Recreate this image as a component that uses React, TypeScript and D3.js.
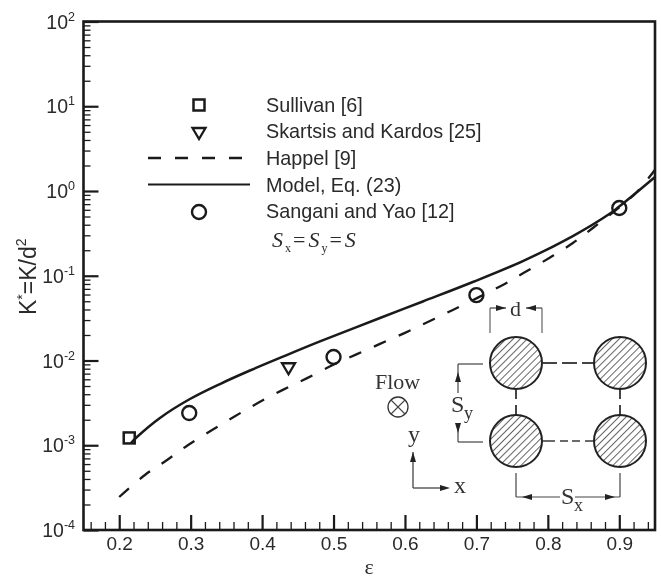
import React, {useEffect, useRef} from 'react';
import * as d3 from 'd3';

// values
const modelX = [0.2164, 0.2248, 0.257, 0.299, 0.341, 0.383, 0.429, 0.481, 0.565, 0.625, 0.695, 0.765, 0.835, 0.886, 0.899, 0.925, 0.95];
const modelY = [0.00106, 0.00125, 0.0021, 0.00351, 0.00528, 0.00762, 0.0111, 0.0168, 0.0317, 0.0497, 0.0844, 0.149, 0.294, 0.535, 0.647, 0.973, 1.46];
const happelX = [0.2, 0.236, 0.267, 0.296, 0.33, 0.362, 0.394, 0.429, 0.463, 0.499, 0.532, 0.565, 0.6, 0.632, 0.667, 0.737, 0.767, 0.802, 0.835, 0.863, 0.9, 0.925, 0.95];
const happelY = [0.000245, 0.000446, 0.00067, 0.001, 0.00151, 0.0022, 0.00315, 0.0045, 0.0062, 0.00885, 0.0118, 0.0157, 0.0212, 0.0285, 0.0395, 0.078, 0.109, 0.162, 0.243, 0.366, 0.64, 0.98, 1.78];
const sullivan = [[0.214, 0.00122]];
const skartsis = [[0.437, 0.0081]];
const sangani = [[0.298, 0.0024], [0.5, 0.011], [0.7, 0.059], [0.9, 0.63]];

const xMajor = [0.2, 0.3, 0.4, 0.5, 0.6, 0.7, 0.8, 0.9];
const xMinor = [0.16, 0.18, 0.22, 0.24, 0.26, 0.28, 0.32, 0.34, 0.36, 0.38, 0.42, 0.44, 0.46, 0.48, 0.52, 0.54, 0.56, 0.58, 0.62, 0.64, 0.66, 0.68, 0.72, 0.74, 0.76, 0.78, 0.82, 0.84, 0.86, 0.88, 0.92, 0.94];
const yExponents = [-4, -3, -2, -1, 0, 1, 2];
const yMinorSteps = [2, 3, 4, 5, 6, 7, 8, 9];

const legendLabels = ['Sullivan [6]', 'Skartsis and Kardos [25]', 'Happel [9]', 'Model, Eq. (23)', 'Sangani and Yao [12]'];

const sans = '"Liberation Sans", Arial, sans-serif';
const serif = '"Liberation Serif", "Times New Roman", serif';
const ink = '#1a1a1a';

const margin = {top: 21.5, right: 6, bottom: 49, left: 83.5};
const width = 661;
const height = 579;

export default function App() {
    const ref = useRef<SVGSVGElement>(null);

    useEffect(() => {
        const svg = d3.select(ref.current);
        svg.selectAll('*').remove();

        const x = d3.scaleLinear().domain([0.15, 0.95]).range([margin.left, width - margin.right]);
        const y = d3.scaleLog().domain([1e-4, 1e2]).range([height - margin.bottom, margin.top]);
        const bottom = height - margin.bottom;

        const defs = svg.append('defs');
        const hatch = defs.append('pattern')
            .attr('id', 'hatch')
            .attr('patternUnits', 'userSpaceOnUse')
            .attr('width', 5)
            .attr('height', 5)
            .attr('patternTransform', 'rotate(-45)');
        hatch.append('line')
            .attr('x1', 0).attr('x2', 5)
            .attr('y1', 2.5).attr('y2', 2.5)
            .attr('stroke', '#555')
            .attr('stroke-width', 0.9);

        // x axis
        const xMinorAxis = svg.append('g').attr('transform', `translate(0,${bottom})`)
            .call(d3.axisBottom(x).tickValues(xMinor).tickSize(-8).tickFormat(() => ''));
        const xMajorAxis = svg.append('g').attr('transform', `translate(0,${bottom})`)
            .call(d3.axisBottom(x).tickValues(xMajor).tickSize(-15).tickPadding(6.5).tickFormat(d3.format('.1f') as any));
        xMinorAxis.select('.domain').remove();
        xMajorAxis.select('.domain').remove();
        xMinorAxis.selectAll('line').attr('stroke', ink).attr('stroke-width', 1.3);
        xMajorAxis.selectAll('line').attr('stroke', ink).attr('stroke-width', 2.2);
        xMajorAxis.selectAll('text')
            .attr('font-family', sans)
            .attr('font-size', 19)
            .attr('fill', '#2a2a2a');

        // y axis, log
        const yMinorValues = yExponents.slice(0, -1).flatMap(e => yMinorSteps.map(s => s * Math.pow(10, e)));
        const yMinorAxis = svg.append('g').attr('transform', `translate(${margin.left},0)`)
            .call(d3.axisRight(y).tickValues(yMinorValues).tickSize(7).tickFormat(() => ''));
        const yMajorAxis = svg.append('g').attr('transform', `translate(${margin.left},0)`)
            .call(d3.axisRight(y).tickValues(yExponents.map(e => Math.pow(10, e))).tickSize(15).tickFormat(() => ''));
        yMinorAxis.select('.domain').remove();
        yMajorAxis.select('.domain').remove();
        yMinorAxis.selectAll('line').attr('stroke', ink).attr('stroke-width', 1.3);
        yMajorAxis.selectAll('line').attr('stroke', ink).attr('stroke-width', 2.2);

        const yLabels = svg.append('g')
            .attr('font-family', sans)
            .attr('fill', '#2a2a2a')
            .attr('text-anchor', 'end');
        yExponents.forEach(e => {
            const t = yLabels.append('text')
                .attr('x', 75)
                .attr('y', y(Math.pow(10, e)) + 7)
                .attr('font-size', 19.5);
            t.append('tspan').text('10');
            t.append('tspan').attr('font-size', 12.5).attr('dy', -8).text(String(e));
        });

        // frame
        svg.append('rect')
            .attr('x', margin.left)
            .attr('y', margin.top)
            .attr('width', width - margin.left - margin.right)
            .attr('height', bottom - margin.top)
            .attr('fill', 'none')
            .attr('stroke', ink)
            .attr('stroke-width', 2.6);

        // curves
        const line = d3.line<number>()
            .x(d => x(d))
            .curve(d3.curveCatmullRom);
        svg.append('path')
            .attr('d', line.y((d, i) => y(happelY[i]))(happelX))
            .attr('fill', 'none')
            .attr('stroke', ink)
            .attr('stroke-width', 2.3)
            .attr('stroke-dasharray', '13 14');
        svg.append('path')
            .attr('d', line.y((d, i) => y(modelY[i]))(modelX))
            .attr('fill', 'none')
            .attr('stroke', ink)
            .attr('stroke-width', 2.5);

        // symbols
        const drawSquare = (g: any, cx: number, cy: number) => g.append('rect')
            .attr('x', cx - 5.5).attr('y', cy - 5.5)
            .attr('width', 11).attr('height', 11)
            .attr('fill', 'none').attr('stroke', ink).attr('stroke-width', 2.5);
        const drawTriangle = (g: any, cx: number, cy: number) => g.append('path')
            .attr('d', `M${cx - 6.5},${cy - 5}L${cx + 6.5},${cy - 5}L${cx},${cy + 6}Z`)
            .attr('fill', 'none').attr('stroke', ink).attr('stroke-width', 2.3);
        const drawCircle = (g: any, cx: number, cy: number) => g.append('circle')
            .attr('cx', cx).attr('cy', cy).attr('r', 7)
            .attr('fill', 'none').attr('stroke', ink).attr('stroke-width', 2.4);

        sullivan.forEach(d => drawSquare(svg, x(d[0]), y(d[1])));
        skartsis.forEach(d => drawTriangle(svg, x(d[0]), y(d[1])));
        sangani.forEach(d => drawCircle(svg, x(d[0]), y(d[1])));

        // legend
        const legendY = [105, 133, 158, 184.5, 212];
        const legendBase = [112, 138, 165, 192, 218];
        drawSquare(svg, 199, legendY[0]);
        drawTriangle(svg, 199, legendY[1]);
        svg.append('line')
            .attr('x1', 148).attr('x2', 243).attr('y1', legendY[2]).attr('y2', legendY[2])
            .attr('stroke', ink).attr('stroke-width', 2.6).attr('stroke-dasharray', '13 14');
        svg.append('line')
            .attr('x1', 148).attr('x2', 250).attr('y1', legendY[3]).attr('y2', legendY[3])
            .attr('stroke', ink).attr('stroke-width', 2.2);
        drawCircle(svg, 199, legendY[4]);
        legendLabels.forEach((label, i) => {
            svg.append('text')
                .attr('x', 266)
                .attr('y', legendBase[i])
                .attr('font-family', sans)
                .attr('font-size', 19.8)
                .attr('fill', '#2a2a2a')
                .text(label);
        });

        // S_x = S_y = S note
        const note = svg.append('text')
            .attr('x', 272).attr('y', 247)
            .attr('font-family', serif)
            .attr('font-size', 22)
            .attr('font-style', 'italic')
            .attr('fill', '#2a2a2a');
        note.append('tspan').text('S');
        note.append('tspan').attr('font-size', 12).attr('font-style', 'normal').attr('dy', 5).attr('dx', 2).text('x');
        note.append('tspan').attr('dy', -5).attr('dx', 2).attr('font-style', 'normal').text('=');
        note.append('tspan').attr('dx', 3).text('S');
        note.append('tspan').attr('font-size', 12).attr('font-style', 'normal').attr('dy', 5).attr('dx', 2).text('y');
        note.append('tspan').attr('dy', -5).attr('dx', 2).attr('font-style', 'normal').text('=');
        note.append('tspan').attr('dx', 3).text('S');

        // axis titles
        const yTitle = svg.append('text')
            .attr('transform', 'translate(36,315) rotate(-90)')
            .attr('font-family', sans)
            .attr('font-size', 23)
            .attr('fill', '#2a2a2a');
        yTitle.append('tspan').text('K');
        yTitle.append('tspan').attr('font-size', 14).attr('dy', -9).text('*');
        yTitle.append('tspan').attr('dy', 9).text('=K/d');
        yTitle.append('tspan').attr('font-size', 14).attr('dy', -10).text('2');
        svg.append('text')
            .attr('x', 369).attr('y', 574)
            .attr('text-anchor', 'middle')
            .attr('font-family', serif)
            .attr('font-size', 22)
            .attr('fill', '#2a2a2a')
            .text('ε');

        // inset schematic of the cylinder array
        const inset = svg.append('g');
        const gray = '#444';
        const cols = [516, 620];
        const rows = [363, 441];
        const r = 26;
        const seg = (x1: number, y1: number, x2: number, y2: number, w = 1.5) => inset.append('line')
            .attr('x1', x1).attr('y1', y1).attr('x2', x2).attr('y2', y2)
            .attr('stroke', gray).attr('stroke-width', w);
        const label = (tx: number, ty: number, s: string, size = 21) => inset.append('text')
            .attr('x', tx).attr('y', ty)
            .attr('font-family', serif).attr('font-size', size).attr('fill', '#333')
            .text(s);
        const arrow = (tx: number, ty: number, angle: number) => inset.append('path')
            .attr('d', 'M0,0L-10,-3L-10,3Z')
            .attr('transform', `translate(${tx},${ty}) rotate(${angle})`)
            .attr('fill', '#222');

        // dashed links between the cylinders
        seg(543, 363, 557, 363, 2);
        seg(562, 363, 577, 363, 2);
        seg(582, 363, 594, 363, 2);
        seg(543, 441, 555, 441, 1.6);
        seg(560, 441, 568, 441, 1.6);
        seg(572, 441, 580, 441, 1.6);
        seg(585, 441, 594, 441, 1.6);
        cols.forEach(cx => {
            seg(cx, 389, cx, 399, 2);
            seg(cx, 405, cx, 415, 2);
        });
        cols.forEach(cx => rows.forEach(ry => {
            inset.append('circle')
                .attr('cx', cx).attr('cy', ry).attr('r', r)
                .attr('fill', 'url(#hatch)')
                .attr('stroke', '#222')
                .attr('stroke-width', 2);
        }));

        // d
        seg(490, 308, 490, 333, 1);
        seg(542, 308, 542, 333, 1);
        seg(490, 308, 506, 308, 1.2);
        seg(526, 308, 542, 308, 1.2);
        arrow(506, 308, 0);
        arrow(526, 308, 180);
        label(510, 316, 'd', 22);

        // S_y
        seg(458, 364, 483, 364, 1.2);
        seg(458, 442, 483, 442, 1.2);
        seg(458, 364, 458, 393, 1.2);
        seg(458, 424, 458, 442, 1.2);
        arrow(458, 372, -90);
        arrow(458, 433, 90);
        label(451, 412, 'S', 24);
        label(464, 419, 'y', 18);

        // S_x
        seg(516, 473, 516, 497, 1.2);
        seg(620, 473, 620, 497, 1.2);
        seg(516, 497, 560, 497, 1.2);
        seg(575, 497, 620, 497, 1.2);
        arrow(522, 497, 180);
        arrow(615, 497, 0);
        label(561, 504, 'S', 24);
        label(574, 511, 'x', 18);

        // flow mark and coordinate axes
        label(375, 389, 'Flow', 22);
        inset.append('circle')
            .attr('cx', 398).attr('cy', 407).attr('r', 10)
            .attr('fill', 'none').attr('stroke', '#333').attr('stroke-width', 1.3);
        seg(391, 400, 405, 414, 1.1);
        seg(391, 414, 405, 400, 1.1);
        seg(413, 452, 413, 488, 1.3);
        seg(413, 488, 445, 488, 1.3);
        arrow(413, 452, -90);
        arrow(450, 488, 0);
        label(408, 442, 'y', 24);
        label(454, 493, 'x', 24);
    }, []);

    return (
        <svg ref={ref} width={width} height={height} style={{position: 'absolute', left: 0, top: 0, background: '#fff', filter: 'blur(0.35px)'}} />
    );
}
